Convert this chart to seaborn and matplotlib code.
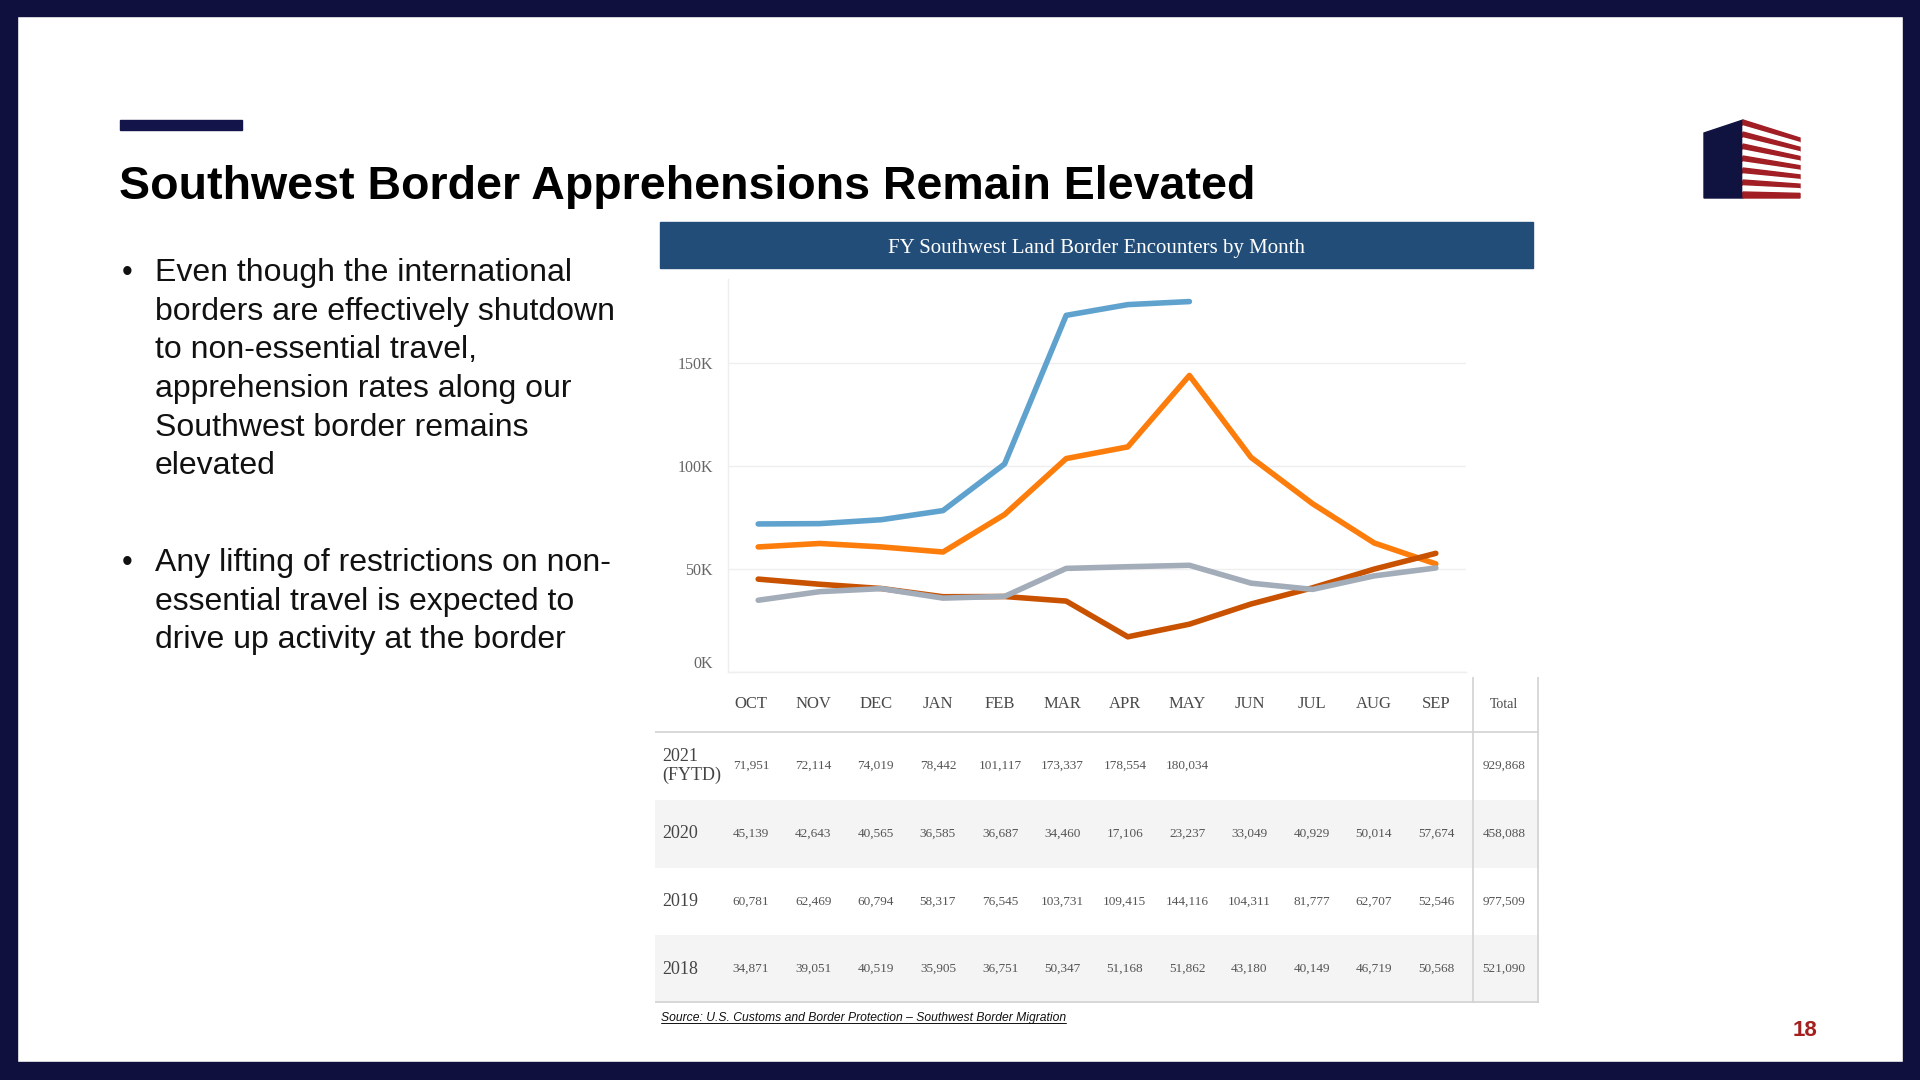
import matplotlib
matplotlib.use("Agg")
import matplotlib.pyplot as plt
import matplotlib.patches as mpatches
from matplotlib.lines import Line2D
from matplotlib.ticker import FuncFormatter
import numpy as np
import pandas as pd
import seaborn as sns

# data
months = ["OCT", "NOV", "DEC", "JAN", "FEB", "MAR", "APR", "MAY", "JUN", "JUL", "AUG", "SEP"]
fy2021 = [71951, 72114, 74019, 78442, 101117, 173337, 178554, 180034, np.nan, np.nan, np.nan, np.nan]
fy2020 = [45139, 42643, 40565, 36585, 36687, 34460, 17106, 23237, 33049, 40929, 50014, 57674]
fy2019 = [60781, 62469, 60794, 58317, 76545, 103731, 109415, 144116, 104311, 81777, 62707, 52546]
fy2018 = [34871, 39051, 40519, 35905, 36751, 50347, 51168, 51862, 43180, 40149, 46719, 50568]
row_labels = ["2021\n(FYTD)", "2020", "2019", "2018"]
totals = [929868, 458088, 977509, 521090]
yticks = [0, 50000, 100000, 150000]

colors = {"2021": "#5fa2ce", "2020": "#c85200", "2019": "#fc7d0b", "2018": "#a3acb9"}
series = {"2021": fy2021, "2020": fy2020, "2019": fy2019, "2018": fy2018}

W, H = 1920, 1080
NAVY = "#0f103d"


def fx(x):
    return x / W


def fy(y):
    return 1 - y / H


sns.set_theme(style="white")
plt.rcParams["font.family"] = ["Liberation Sans", "DejaVu Sans"]

fig = plt.figure(figsize=(19.2, 10.8), dpi=100)
fig.patch.set_facecolor("white")

# slide frame
for (x0, y0, w, h) in [(0, 0, W, 16), (0, 1062, W, 18), (0, 0, 17, H), (1903, 0, 17, H)]:
    fig.patches.append(mpatches.Rectangle((fx(x0), fy(y0 + h)), w / W, h / H,
                                          transform=fig.transFigure, color=NAVY, zorder=0))

# accent bar + heading
fig.patches.append(mpatches.Rectangle((fx(120), fy(130)), 122 / W, 10 / H,
                                      transform=fig.transFigure, color="#12144a"))
fig.text(fx(119), fy(187), "Southwest Border Apprehensions Remain Elevated",
         fontsize=33.5, fontweight="bold", color="black", va="center", ha="left")

# logo
fig.patches.append(mpatches.Polygon([(fx(1704), fy(133)), (fx(1743), fy(120)), (fx(1743), fy(198)), (fx(1704), fy(198))],
                                    closed=True, transform=fig.transFigure, color="#10123f"))
nb = 13
for k in range(nb):
    lt, lb = 120 + k * 78 / nb, 120 + (k + 1) * 78 / nb
    rt, rb = 138 + k * 60 / nb, 138 + (k + 1) * 60 / nb
    c = "#a11f24" if k % 2 == 0 else "white"
    fig.patches.append(mpatches.Polygon([(fx(1743), fy(lt)), (fx(1800), fy(rt)), (fx(1800), fy(rb)), (fx(1743), fy(lb))],
                                        closed=True, transform=fig.transFigure, color=c))

# bullets
bullet1 = ["Even though the international", "borders are effectively shutdown", "to non-essential travel,",
           "apprehension rates along our", "Southwest border remains", "elevated"]
bullet2 = ["Any lifting of restrictions on non-", "essential travel is expected to", "drive up activity at the border"]
for lines, y0 in [(bullet1, 273), (bullet2, 563)]:
    fig.text(fx(122), fy(y0), "•", fontsize=22, va="center", color="#111111")
    for i, t in enumerate(lines):
        fig.text(fx(155), fy(y0 + i * 38.7), t, fontsize=23, va="center", color="#111111")

# chart banner
fig.patches.append(mpatches.Rectangle((fx(660), fy(268)), (1533 - 660) / W, 46 / H,
                                      transform=fig.transFigure, color="#214d78"))
fig.text(fx(1096), fy(248), "FY Southwest Land Border Encounters by Month", color="white",
         fontsize=15, family="Liberation Serif", ha="center", va="center")

# line chart
records = []
for yr, vals in series.items():
    for i, (m, v) in enumerate(zip(months, vals)):
        records.append({"year": yr, "month": m, "pos": i, "value": v})
df = pd.DataFrame(records).dropna()

ax = fig.add_axes([fx(728), fy(672), (1466 - 728) / W, (672 - 279) / H])
sns.lineplot(data=df, x="pos", y="value", hue="year", hue_order=["2021", "2019", "2020", "2018"],
             palette=colors, linewidth=4, legend=False, sort=False, ax=ax,
             solid_capstyle="round", solid_joinstyle="round")
ax.set_xlim(-0.49, len(months) - 0.51)
ax.set_ylim(0, 191000)
ax.set_xticks([])
ax.set_yticks(yticks)
ax.yaxis.set_major_formatter(FuncFormatter(lambda v, p: f"{v / 1000:.0f}K"))
ax.set_xlabel("")
ax.set_ylabel("")
ax.grid(axis="y", color="#efefef", linewidth=1)
ax.grid(axis="x", visible=False)
ax.tick_params(axis="y", length=0, pad=11, labelsize=11.5, labelcolor="#666666")
for lab in ax.get_yticklabels():
    lab.set_family("Liberation Serif")
ax.get_yticklabels()[0].set_va("bottom")
for s in ["top", "right"]:
    ax.spines[s].set_visible(False)
for s in ["left", "bottom"]:
    ax.spines[s].set_color("#eeeeee")
    ax.spines[s].set_linewidth(1)

# data table
tax = fig.add_axes([fx(655), fy(1003), (1539 - 655) / W, (1003 - 677) / H])
tax.set_xlim(0, 884)
tax.set_ylim(326, 0)
tax.axis("off")
row_top = [55, 123, 191, 258]
row_h = 68
for r, top in enumerate(row_top):
    if r % 2 == 1:
        tax.add_patch(mpatches.Rectangle((0, top), 818, row_h, color="#f4f4f4", lw=0))
        tax.add_patch(mpatches.Rectangle((819, top), 65, row_h, color="#f4f4f4", lw=0))
tax.plot([0, 884], [55, 55], color="#d2d2d2", lw=1.2)
tax.plot([0, 884], [325, 325], color="#d2d2d2", lw=1.2)
tax.plot([818, 818], [0, 326], color="#d2d2d2", lw=1.2)
tax.plot([883, 883], [0, 326], color="#d2d2d2", lw=1.2)

col0, col_step = 96, 62.3
for j, m in enumerate(months):
    tax.text(col0 + j * col_step, 27, m, ha="center", va="center", fontsize=12,
             family="Liberation Serif", color="#4a4a4a")
tax.text(849, 27, "Total", ha="center", va="center", fontsize=10, family="Liberation Serif", color="#4a4a4a")

table_rows = [fy2021, fy2020, fy2019, fy2018]
for r, (lab, vals, tot) in enumerate(zip(row_labels, table_rows, totals)):
    cy = row_top[r] + row_h / 2
    tax.text(7, cy, lab, ha="left", va="center", fontsize=13, family="Liberation Serif",
             color="#444444", linespacing=1.2)
    for j, v in enumerate(vals):
        if not np.isnan(v):
            tax.text(col0 + j * col_step, cy, f"{int(v):,}", ha="center", va="center", fontsize=9.5,
                     family="Liberation Serif", color="#555555")
    tax.text(849, cy, f"{tot:,}", ha="center", va="center", fontsize=9.5,
             family="Liberation Serif", color="#555555")

# source note (underlined)
src = fig.text(fx(661), fy(1018), "Source: U.S. Customs and Border Protection \u2013 Southwest Border Migration",
               fontsize=8.7, style="italic", color="#111111", va="center")
fig.canvas.draw()
bb = src.get_window_extent().transformed(fig.transFigure.inverted())
fig.lines.append(Line2D([bb.x0, bb.x1], [bb.y0 + 0.001, bb.y0 + 0.001], transform=fig.transFigure,
                        color="#111111", lw=0.7))

# page number
fig.text(fx(1805), fy(1031), "18", fontsize=16, fontweight="bold", color="#a3201f", ha="center", va="center")

fig.savefig("out.png", dpi=100, facecolor="white")
